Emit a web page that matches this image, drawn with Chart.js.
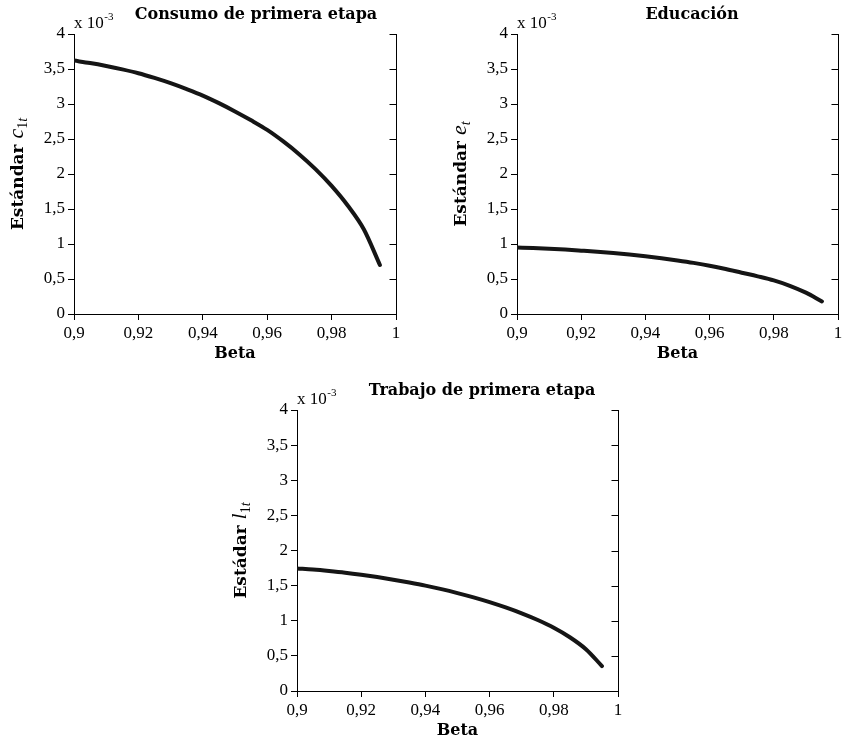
<!DOCTYPE html>
<html>
<head>
<meta charset="utf-8">
<script src="https://cdn.jsdelivr.net/npm/chart.js@4.4.0/dist/chart.umd.min.js"></script>
<style>
  html, body { margin: 0; padding: 0; background: #fff; }
  #wrap { position: relative; width: 847px; height: 744px; }
  canvas { position: absolute; }
</style>
</head>
<body>
<div id="wrap">
  <canvas id="g1" width="423" height="372" style="left:0;top:0"></canvas>
  <canvas id="g2" width="424" height="372" style="left:423px;top:0"></canvas>
  <canvas id="g3" width="423" height="372" style="left:212px;top:372px"></canvas>
</div>
<script>
// valores (desviacion estandar, en unidades de 10^-3)
var beta = [0.900, 0.905, 0.910, 0.915, 0.920, 0.925, 0.930, 0.935, 0.940, 0.945,
            0.950, 0.955, 0.960, 0.965, 0.970, 0.975, 0.980, 0.985, 0.990, 0.995];
var consumo = [3.62, 3.585, 3.543, 3.495, 3.44, 3.372, 3.297, 3.212, 3.12, 3.012,
               2.894, 2.767, 2.63, 2.465, 2.28, 2.07, 1.83, 1.55, 1.21, 0.70];
var educacion = [0.95, 0.942, 0.932, 0.92, 0.905, 0.889, 0.87, 0.849, 0.825, 0.797,
                 0.765, 0.73, 0.69, 0.643, 0.59, 0.538, 0.48, 0.403, 0.305, 0.18];
var trabajo = [1.745, 1.729, 1.708, 1.684, 1.655, 1.622, 1.585, 1.544, 1.50, 1.45,
               1.394, 1.333, 1.265, 1.189, 1.105, 1.01, 0.90, 0.765, 0.595, 0.355];

var xTicks = [0.9, 0.92, 0.94, 0.96, 0.98, 1];
var xTickLabels = ['0,9', '0,92', '0,94', '0,96', '0,98', '1'];
var yTicks = [0, 0.5, 1, 1.5, 2, 2.5, 3, 3.5, 4];
var yTickLabels = ['0', '0,5', '1', '1,5', '2', '2,5', '3', '3,5', '4'];

var serif = '"Liberation Serif", serif';
var boldSerif = '"DejaVu Serif", serif';

// eje derecho, titulo, factor x10^-3 y etiqueta del eje y
var decorado = {
  id: 'decorado',
  afterDraw: function (chart, args, o) {
    var ctx = chart.ctx, a = chart.chartArea, ys = chart.scales.y;
    ctx.save();
    ctx.strokeStyle = '#000';
    ctx.lineWidth = 1;
    ctx.beginPath();
    var rx = Math.round(a.right) + 0.5;
    ctx.moveTo(rx, a.top);
    ctx.lineTo(rx, a.bottom);
    yTicks.forEach(function (v) {
      var py = Math.round(ys.getPixelForValue(v)) + 0.5;
      ctx.moveTo(rx, py);
      ctx.lineTo(rx - 7, py);
    });
    ctx.stroke();

    ctx.fillStyle = '#000';
    // x 10^-3
    ctx.textAlign = 'left';
    ctx.textBaseline = 'alphabetic';
    ctx.font = '17px ' + serif;
    ctx.fillText('x 10', a.left, a.top - 6.5);
    var w = ctx.measureText('x 10').width;
    ctx.font = '11px ' + serif;
    ctx.fillText('-3', a.left + w + 0.5, a.top - 14);

    // titulo
    ctx.font = 'bold 16px ' + boldSerif;
    ctx.textAlign = 'center';
    ctx.textBaseline = 'middle';
    ctx.fillText(o.titulo, a.left + o.tituloX, a.top - 19.5);

    // etiqueta vertical
    var partes = o.etiqueta;
    var total = 0;
    partes.forEach(function (p) { ctx.font = p.f; p.w = ctx.measureText(p.t).width; total += p.w; });
    ctx.translate(a.left - 51, (a.top + a.bottom) / 2);
    ctx.rotate(-Math.PI / 2);
    ctx.textAlign = 'left';
    ctx.textBaseline = 'alphabetic';
    var x = -total / 2;
    partes.forEach(function (p) {
      ctx.font = p.f;
      ctx.fillText(p.t, x, p.dy);
      x += p.w;
    });
    ctx.restore();
  }
};

function etiquetaY(palabra, letra, sub) {
  return [
    { t: palabra + ' ', f: 'bold 17px ' + boldSerif, dy: 0 },
    { t: letra, f: 'italic 22px ' + serif, dy: 0 },
    { t: sub.replace('t', ''), f: '14px ' + serif, dy: 4 },
    { t: 't', f: 'italic 14px ' + serif, dy: 4 }
  ];
}

function crearGrafico(id, valores, padding, titulo, tituloX, etiqueta) {
  return new Chart(document.getElementById(id), {
    type: 'line',
    data: {
      datasets: [{
        data: beta.map(function (b, i) { return { x: b, y: valores[i] }; }),
        borderColor: '#151515',
        borderWidth: 4,
        pointRadius: 0,
        cubicInterpolationMode: 'monotone',
        borderCapStyle: 'round',
        borderJoinStyle: 'round',
        fill: false
      }]
    },
    options: {
      responsive: false,
      animation: false,
      devicePixelRatio: 1,
      layout: { padding: padding },
      plugins: {
        legend: { display: false },
        tooltip: { enabled: false },
        decorado: { titulo: titulo, tituloX: tituloX, etiqueta: etiqueta }
      },
      scales: {
        x: {
          type: 'linear',
          min: 0.9,
          max: 1,
          afterBuildTicks: function (s) { s.ticks = xTicks.map(function (v) { return { value: v }; }); },
          afterFit: function (s) { s.height = 50; },
          ticks: {
            callback: function (v, i) { return xTickLabels[i]; },
            font: { family: serif, size: 17 },
            color: '#000',
            padding: 3,
            maxRotation: 0,
            autoSkip: false
          },
          grid: { drawOnChartArea: false, tickLength: 6, color: '#000' },
          border: { display: true, color: '#000', width: 1 },
          title: {
            display: true,
            text: 'Beta',
            font: { family: boldSerif, size: 16, weight: 'bold' },
            color: '#000',
            padding: { top: 0, bottom: 1 }
          }
        },
        y: {
          min: 0,
          max: 4,
          afterBuildTicks: function (s) { s.ticks = yTicks.map(function (v) { return { value: v }; }); },
          afterFit: function (s) { s.width = 60; },
          ticks: {
            callback: function (v, i) { return yTickLabels[i]; },
            font: { family: serif, size: 17 },
            color: '#000',
            padding: 3,
            autoSkip: false
          },
          grid: { drawOnChartArea: false, tickLength: 6, color: '#000' },
          border: { display: true, color: '#000', width: 1 }
        }
      }
    },
    plugins: [decorado]
  });
}

crearGrafico('g1', consumo, { left: 14, top: 34, right: 27, bottom: 8 },
  'Consumo de primera etapa', 182, etiquetaY('Estándar', 'c', '1t'));
crearGrafico('g2', educacion, { left: 34, top: 34, right: 9, bottom: 8 },
  'Educación', 175, etiquetaY('Estándar', 'e', 't'));
crearGrafico('g3', trabajo, { left: 25, top: 38, right: 17, bottom: 3 },
  'Trabajo de primera etapa', 185, etiquetaY('Estádar', 'l', '1t'));
</script>
</body>
</html>
